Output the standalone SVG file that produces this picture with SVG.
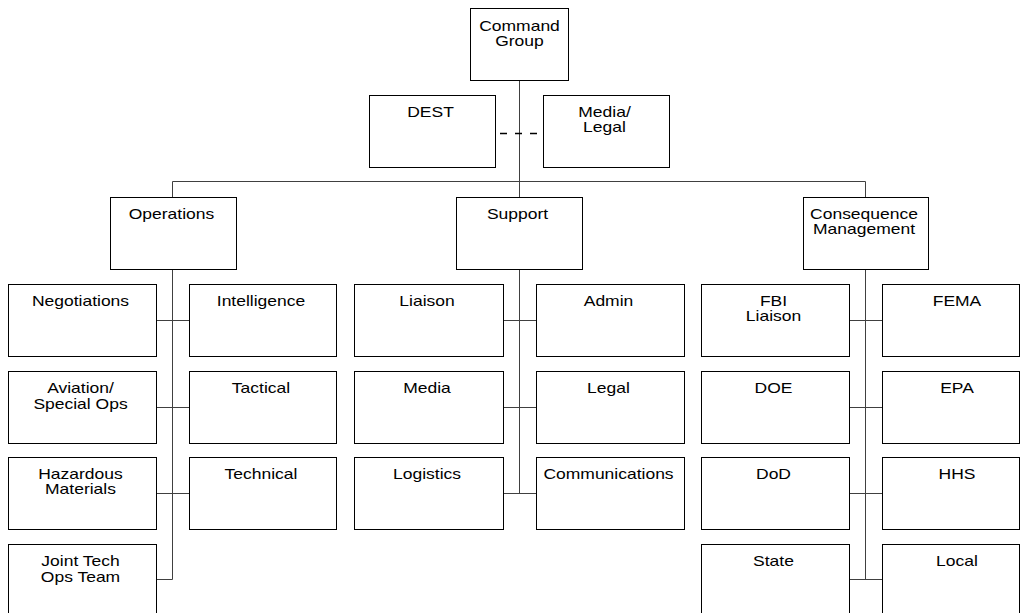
<svg xmlns="http://www.w3.org/2000/svg" width="1021" height="613" viewBox="0 0 1021 613">
<style>
.b{fill:#fff;stroke:#000;stroke-width:1}
.c{fill:none;stroke:#404040;stroke-width:1}
.d{fill:none;stroke:#000;stroke-width:1.3;stroke-dasharray:7 8}
.t{font-family:"Liberation Sans",Arial,sans-serif;font-size:14px;text-anchor:middle;fill:#000}
</style>
<rect width="1021" height="613" fill="#fff"/>
<g id="connectors">
<path class="c" d="M519.5 80.5V197.5M172.5 181.5H865.5M172.5 181.5V197.5M865.5 181.5V197.5"/>
<path class="d" d="M500 133.5H539"/>
<path class="c" d="M172.5 269.5V579.5M156.5 320.5H189.5M156.5 407.5H189.5M156.5 493.5H189.5M156.5 579.5H172.5"/>
<path class="c" d="M519.5 269.5V493.5M503.5 320.5H536.5M503.5 407.5H536.5M503.5 493.5H536.5"/>
<path class="c" d="M865.5 269.5V579.5M849.5 320.5H882.5M849.5 407.5H882.5M849.5 493.5H882.5M849.5 579.5H882.5"/>
</g>
<g id="command-group"><rect class="b" x="470.5" y="8.5" width="98" height="72"/><text class="t" transform="translate(519.5 0) scale(1.25 1)" x="0" y="31">Command</text><text class="t" transform="translate(519.5 0) scale(1.25 1)" x="0" y="46">Group</text></g>
<g id="dest"><rect class="b" x="369.5" y="95.5" width="126" height="72"/><text class="t" transform="translate(430.5 0) scale(1.25 1)" x="0" y="117">DEST</text></g>
<g id="media-legal"><rect class="b" x="543.5" y="95.5" width="126" height="72"/><text class="t" transform="translate(604.5 0) scale(1.25 1)" x="0" y="117">Media/</text><text class="t" transform="translate(604.5 0) scale(1.25 1)" x="0" y="132">Legal</text></g>
<g id="operations"><rect class="b" x="110.5" y="197.5" width="126" height="72"/><text class="t" transform="translate(171.5 0) scale(1.25 1)" x="0" y="219.5">Operations</text></g>
<g id="support"><rect class="b" x="456.5" y="197.5" width="126" height="72"/><text class="t" transform="translate(517.5 0) scale(1.25 1)" x="0" y="219.5">Support</text></g>
<g id="consequence-management"><rect class="b" x="803.5" y="197.5" width="125" height="72"/><text class="t" transform="translate(864 0) scale(1.25 1)" x="0" y="219.5">Consequence</text><text class="t" transform="translate(864 0) scale(1.25 1)" x="0" y="234.5">Management</text></g>

<g id="negotiations"><rect class="b" x="8.5" y="284.5" width="148" height="72"/><text class="t" transform="translate(80.5 0) scale(1.25 1)" x="0" y="306.5">Negotiations</text></g>
<g id="intelligence"><rect class="b" x="189.5" y="284.5" width="147" height="72"/><text class="t" transform="translate(261 0) scale(1.25 1)" x="0" y="306.5">Intelligence</text></g>
<g id="aviation"><rect class="b" x="8.5" y="371.5" width="148" height="72"/><text class="t" transform="translate(80.5 0) scale(1.25 1)" x="0" y="393.5">Aviation/</text><text class="t" transform="translate(80.5 0) scale(1.25 1)" x="0" y="408.5">Special Ops</text></g>
<g id="tactical"><rect class="b" x="189.5" y="371.5" width="147" height="72"/><text class="t" transform="translate(261 0) scale(1.25 1)" x="0" y="393.5">Tactical</text></g>
<g id="hazmat"><rect class="b" x="8.5" y="457.5" width="148" height="72"/><text class="t" transform="translate(80.5 0) scale(1.25 1)" x="0" y="479.5">Hazardous</text><text class="t" transform="translate(80.5 0) scale(1.25 1)" x="0" y="494.5">Materials</text></g>
<g id="technical"><rect class="b" x="189.5" y="457.5" width="147" height="72"/><text class="t" transform="translate(261 0) scale(1.25 1)" x="0" y="479.5">Technical</text></g>
<g id="jtot"><rect class="b" x="8.5" y="544.5" width="148" height="80"/><text class="t" transform="translate(80.5 0) scale(1.25 1)" x="0" y="566.5">Joint Tech</text><text class="t" transform="translate(80.5 0) scale(1.25 1)" x="0" y="582">Ops Team</text></g>

<g id="liaison"><rect class="b" x="354.5" y="284.5" width="149" height="72"/><text class="t" transform="translate(427 0) scale(1.25 1)" x="0" y="306.5">Liaison</text></g>
<g id="admin"><rect class="b" x="536.5" y="284.5" width="148" height="72"/><text class="t" transform="translate(608.5 0) scale(1.25 1)" x="0" y="306.5">Admin</text></g>
<g id="media"><rect class="b" x="354.5" y="371.5" width="149" height="72"/><text class="t" transform="translate(427 0) scale(1.25 1)" x="0" y="393.5">Media</text></g>
<g id="legal"><rect class="b" x="536.5" y="371.5" width="148" height="72"/><text class="t" transform="translate(608.5 0) scale(1.25 1)" x="0" y="393.5">Legal</text></g>
<g id="logistics"><rect class="b" x="354.5" y="457.5" width="149" height="72"/><text class="t" transform="translate(427 0) scale(1.25 1)" x="0" y="479.5">Logistics</text></g>
<g id="communications"><rect class="b" x="536.5" y="457.5" width="148" height="72"/><text class="t" transform="translate(608.5 0) scale(1.25 1)" x="0" y="479.5">Communications</text></g>

<g id="fbi-liaison"><rect class="b" x="701.5" y="284.5" width="148" height="72"/><text class="t" transform="translate(773.5 0) scale(1.25 1)" x="0" y="306.5">FBI</text><text class="t" transform="translate(773.5 0) scale(1.25 1)" x="0" y="321.5">Liaison</text></g>
<g id="fema"><rect class="b" x="882.5" y="284.5" width="137" height="72"/><text class="t" transform="translate(957 0) scale(1.25 1)" x="0" y="306.5">FEMA</text></g>
<g id="doe"><rect class="b" x="701.5" y="371.5" width="148" height="72"/><text class="t" transform="translate(773.5 0) scale(1.25 1)" x="0" y="393.5">DOE</text></g>
<g id="epa"><rect class="b" x="882.5" y="371.5" width="137" height="72"/><text class="t" transform="translate(957 0) scale(1.25 1)" x="0" y="393.5">EPA</text></g>
<g id="dod"><rect class="b" x="701.5" y="457.5" width="148" height="72"/><text class="t" transform="translate(773.5 0) scale(1.25 1)" x="0" y="479.5">DoD</text></g>
<g id="hhs"><rect class="b" x="882.5" y="457.5" width="137" height="72"/><text class="t" transform="translate(957 0) scale(1.25 1)" x="0" y="479.5">HHS</text></g>
<g id="state"><rect class="b" x="701.5" y="544.5" width="148" height="80"/><text class="t" transform="translate(773.5 0) scale(1.25 1)" x="0" y="566.5">State</text></g>
<g id="local"><rect class="b" x="882.5" y="544.5" width="137" height="80"/><text class="t" transform="translate(957 0) scale(1.25 1)" x="0" y="566.5">Local</text></g>
</svg>
